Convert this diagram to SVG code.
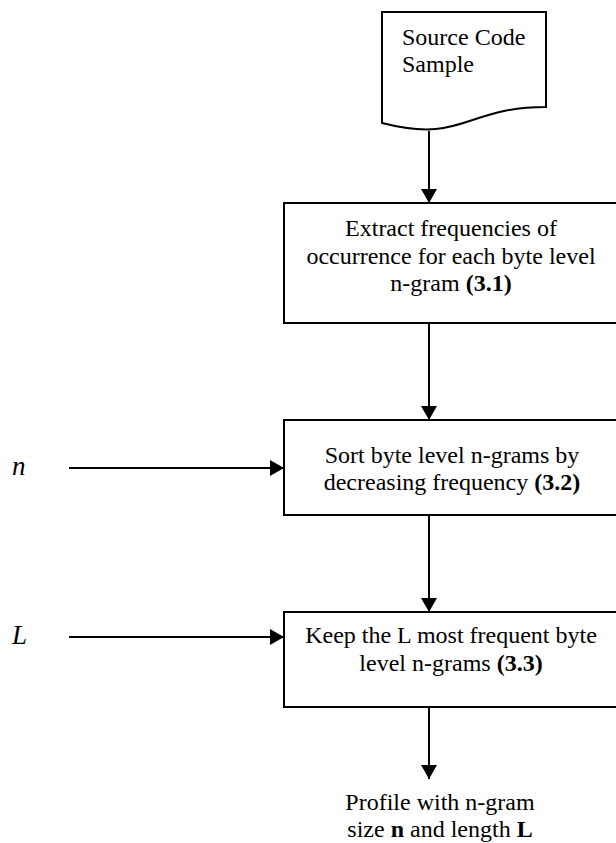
<svg xmlns="http://www.w3.org/2000/svg" width="616" height="843" viewBox="0 0 616 843">
<defs>
<style>
.shape{fill:#fff;stroke:#000;stroke-width:2}
.t{font-family:"Liberation Serif","Times New Roman",serif;font-size:24px;fill:#000}
.c{text-anchor:middle}
.b{font-weight:bold}
.i{font-style:italic;font-size:27px}
.conn{stroke:#000;stroke-width:2;fill:none;marker-end:url(#ah)}
</style>
<marker id="ah" markerUnits="userSpaceOnUse" markerWidth="14" markerHeight="16" refX="14" refY="8" orient="auto">
<path d="M0,0 L14,8 L0,16 Z" fill="#000"/>
</marker>
</defs>
<rect width="616" height="843" fill="#fff"/>
<g id="source">
<path class="shape" d="M382,12 L546,12 L546,107 C464,107 464,144 382,123 Z"/>
<text class="t" x="402" y="45">Source Code</text>
<text class="t" x="402" y="72">Sample</text>
</g>
<g id="extract">
<rect class="shape" x="284" y="203" width="336" height="120"/>
<text class="t c" x="451" y="236">Extract frequencies of</text>
<text class="t c" x="451" y="264">occurrence for each byte level</text>
<text class="t c" x="451" y="291">n-gram <tspan class="b">(3.1)</tspan></text>
</g>
<g id="sort">
<rect class="shape" x="284" y="420" width="336" height="95"/>
<text class="t c" x="452" y="463">Sort byte level n-grams by</text>
<text class="t c" x="452" y="490">decreasing frequency <tspan class="b">(3.2)</tspan></text>
</g>
<g id="keep">
<rect class="shape" x="284" y="612" width="336" height="95"/>
<text class="t c" x="451" y="643">Keep the L most frequent byte</text>
<text class="t c" x="451" y="671">level n-grams <tspan class="b">(3.3)</tspan></text>
</g>
<g id="input-n">
<text class="t i" x="12" y="475">n</text>
</g>
<g id="input-L">
<text class="t i" x="12" y="644">L</text>
</g>
<g id="profile">
<text class="t c" x="440" y="810">Profile with n-gram</text>
<text class="t c" x="440" y="837">size <tspan class="b">n</tspan> and length <tspan class="b">L</tspan></text>
</g>
<g id="connectors">
<line class="conn" x1="429" y1="131" x2="429" y2="203"/>
<line class="conn" x1="429" y1="323" x2="429" y2="420"/>
<line class="conn" x1="429" y1="515" x2="429" y2="612"/>
<line class="conn" x1="429" y1="707" x2="429" y2="779"/>
<line class="conn" x1="69" y1="468" x2="284" y2="468"/>
<line class="conn" x1="69" y1="637" x2="284" y2="637"/>
</g>
</svg>
